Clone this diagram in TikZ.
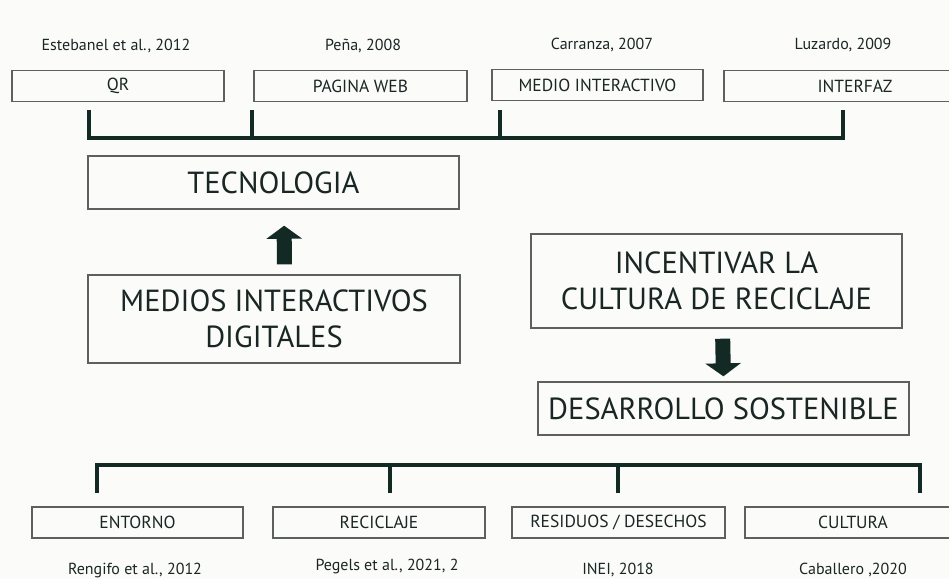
\documentclass[tikz,border=0pt]{standalone}
\usepackage{fontspec}
\setmainfont{PT Sans}
\usepackage{tikz}
\usetikzlibrary{positioning}
\usetikzlibrary{arrows.meta}
\definecolor{inkColor}{rgb}{0.1,0.15,0.14}
\definecolor{lineColor}{rgb}{0.07,0.16,0.14}
\definecolor{frameColor}{rgb}{0.36,0.38,0.37}
\definecolor{paperColor}{rgb}{0.985,0.985,0.98}

\begin{document}
\begin{tikzpicture}[x=1pt,y=-1pt]

            \tikzstyle{smallBox} = [draw=frameColor, line width=1.4pt, minimum height=31pt, inner sep=0pt, text=inkColor, font=\fontsize{17.5}{20}\selectfont];
            \tikzstyle{bigBox} = [draw=frameColor, line width=1.4pt, inner sep=0pt, align=center, text=inkColor, font=\fontsize{30.5}{36.5}\selectfont];
            \tikzstyle{citation} = [text=inkColor, font=\fontsize{16}{18}\selectfont];
            \tikzstyle{bracket} = [lineColor, line width=3.5pt];
            \tikzstyle{blockArrow} = [lineColor, line width=15pt, -{Triangle[length=13pt,width=35pt]}];

            \fill[paperColor] (0,0) rectangle (949,579);
            \useasboundingbox (0,0) rectangle (949,579);

            \node[citation] (c1) at (116,46) {Estebanel et al., 2012};
            \node[citation] (c2) at (363,46) {Peña, 2008};
            \node[citation] (c3) at (602,45) {Carranza, 2007};
            \node[citation] (c4) at (843,45) {Luzardo, 2009};

            \node[smallBox, minimum width=212pt] (qr) at (118,86) {QR};
            \node[smallBox, minimum width=213pt] (web) at (360.5,86) {PAGINA WEB};
            \node[smallBox, minimum width=211pt] (medio) at (597.5,85) {MEDIO INTERACTIVO};
            \node[smallBox, minimum width=262pt] (interfaz) at (855,86) {INTERFAZ};

            \coordinate (t1) at (89,110);
            \coordinate (t2) at (252,110);
            \coordinate (t3) at (500,110);
            \coordinate (t4) at (843,110);
            \coordinate (t1b) at (89,138);
            \coordinate (t2b) at (252,138);
            \coordinate (t3b) at (500,138);
            \coordinate (t4b) at (843,138);

            \draw[bracket] (t1) -- (t1b) -- (t4b) -- (t4);
            \draw[bracket] (t2) -- (t2b);
            \draw[bracket] (t3) -- (t3b);

            \node[bigBox, minimum width=371pt, minimum height=53pt] (tecno) at (273.5,182.5) {TECNOLOGIA};
            \node[bigBox, minimum width=372pt, minimum height=88pt] (medios) at (274,319) {MEDIOS INTERACTIVOS\\DIGITALES};

            \draw[blockArrow, shorten <=10pt, shorten >=16pt] ([xshift=10.5pt]medios.north) -- ([xshift=10.5pt]tecno.south);

            \node[bigBox, minimum width=371pt, minimum height=94pt] (incentivar) at (716.5,281) {INCENTIVAR LA\\CULTURA DE RECICLAJE};
            \node[bigBox, minimum width=371pt, minimum height=53pt] (desarrollo) at (723.5,408.5) {DESARROLLO SOSTENIBLE};

            \draw[blockArrow, shorten <=10pt, shorten >=5pt] ([xshift=6pt]incentivar.south) -- (desarrollo.north);

            \coordinate (b1) at (97,493);
            \coordinate (b2) at (390,493);
            \coordinate (b3) at (618,493);
            \coordinate (b4) at (920,493);
            \coordinate (b1t) at (97,465);
            \coordinate (b2t) at (390,465);
            \coordinate (b3t) at (618,465);
            \coordinate (b4t) at (920,465);

            \draw[bracket] (b1) -- (b1t) -- (b4t) -- (b4);
            \draw[bracket] (b2) -- (b2t);
            \draw[bracket] (b3) -- (b3t);

            \node[smallBox, minimum width=211pt] (entorno) at (137.5,522.5) {ENTORNO};
            \node[smallBox, minimum width=212pt] (reciclaje) at (379,522.5) {RECICLAJE};
            \node[smallBox, minimum width=213pt] (residuos) at (618.5,522.5) {RESIDUOS / DESECHOS};
            \node[smallBox, minimum width=216pt] (cultura) at (853,522.5) {CULTURA};

            \node[citation] (d1) at (135,570) {Rengifo et al., 2012};
            \node[citation] (d2) at (387,566) {Pegels et al., 2021, 2};
            \node[citation] (d3) at (618,570) {INEI, 2018};
            \node[citation] (d4) at (853,570) {Caballero ,2020};
          \end{tikzpicture}
\end{document}
